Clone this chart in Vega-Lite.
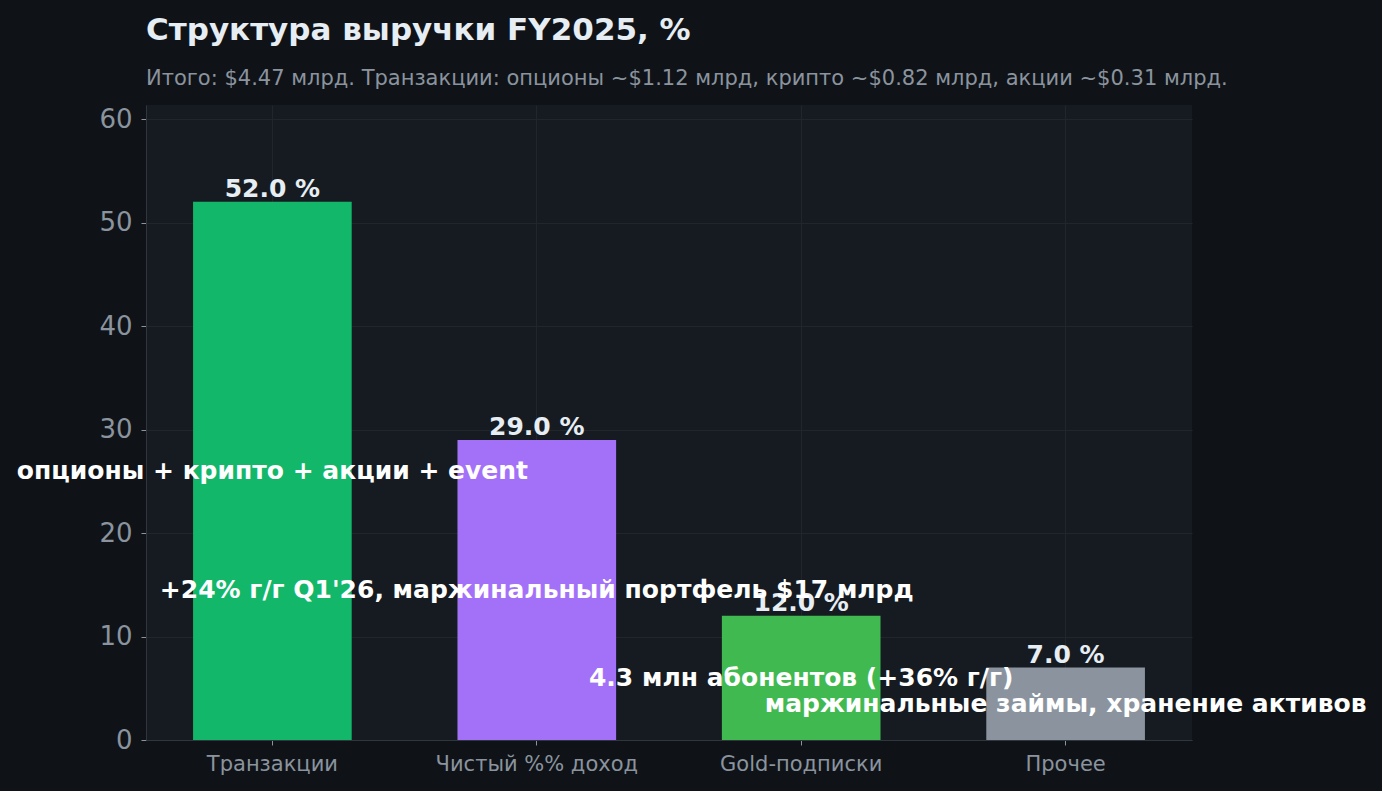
{
  "$schema": "https://vega.github.io/schema/vega-lite/v6.json",
  "autosize": "none",
  "width": 1046,
  "height": 635,
  "padding": {"left": 146, "top": 105, "right": 190, "bottom": 51},
  "background": "#0f1318",
  "title": {
    "text": "Структура выручки FY2025, %",
    "subtitle": "Итого: $4.47 млрд. Транзакции: опционы ~$1.12 млрд, крипто ~$0.82 млрд, акции ~$0.31 млрд.",
    "anchor": "start",
    "frame": "group",
    "font": "DejaVu Sans",
    "fontSize": 31,
    "fontWeight": "bold",
    "color": "#e6edf3",
    "subtitleFont": "DejaVu Sans",
    "subtitleFontSize": 21,
    "subtitleColor": "#8b949e",
    "subtitlePadding": 21,
    "offset": 15
  },
  "config": {
    "view": {"fill": "#161b22", "stroke": null},
    "font": "DejaVu Sans"
  },
  "data": {
    "values": [
      {"cat": "Транзакции", "value": 52.0, "note": "опционы + крипто + акции + event"},
      {"cat": "Чистый %% доход", "value": 29.0, "note": "+24% г/г Q1'26, маржинальный портфель $17 млрд"},
      {"cat": "Gold-подписки", "value": 12.0, "note": "4.3 млн абонентов (+36% г/г)"},
      {"cat": "Прочее", "value": 7.0, "note": "маржинальные займы, хранение активов"}
    ]
  },
  "encoding": {
    "x": {
      "field": "cat",
      "type": "nominal",
      "sort": null,
      "title": null,
      "scale": {"paddingInner": 0.4, "paddingOuter": 0.178},
      "axis": {
        "labelAngle": 0,
        "labelColor": "#8b949e",
        "labelFontSize": 21,
        "labelLimit": 400,
        "labelPadding": 8,
        "tickColor": "#8b949e",
        "tickSize": 5,
        "domainColor": "#30363d",
        "gridColor": "#21262d",
        "grid": true,
        "bandPosition": 0.5
      }
    }
  },
  "layer": [
    {
      "mark": {"type": "bar"},
      "encoding": {
        "y": {
          "field": "value",
          "type": "quantitative",
          "title": null,
          "scale": {"domain": [0, 61.36], "nice": false},
          "axis": {
            "values": [0, 10, 20, 30, 40, 50, 60],
            "labelColor": "#8b949e",
            "labelFontSize": 26,
            "labelPadding": 9,
            "tickColor": "#8b949e",
            "tickSize": 5,
            "domainColor": "#30363d",
            "gridColor": "#21262d"
          }
        },
        "color": {
          "field": "cat",
          "type": "nominal",
          "legend": null,
          "scale": {
            "domain": ["Транзакции", "Чистый %% доход", "Gold-подписки", "Прочее"],
            "range": ["#12b76a", "#a371f7", "#3fb950", "#8b949e"]
          }
        }
      }
    },
    {
      "transform": [{"calculate": "format(datum.value, '.1f') + ' %'", "as": "label"}],
      "mark": {"type": "text", "baseline": "alphabetic", "dy": -5, "fontSize": 25, "fontWeight": "bold", "color": "#e6edf3"},
      "encoding": {
        "y": {"field": "value", "type": "quantitative"},
        "text": {"field": "label"}
      }
    },
    {
      "transform": [{"calculate": "datum.value / 2", "as": "mid"}],
      "mark": {"type": "text", "baseline": "middle", "fontSize": 25, "fontWeight": "bold", "color": "#ffffff"},
      "encoding": {
        "y": {"field": "mid", "type": "quantitative"},
        "text": {"field": "note"}
      }
    }
  ]
}
